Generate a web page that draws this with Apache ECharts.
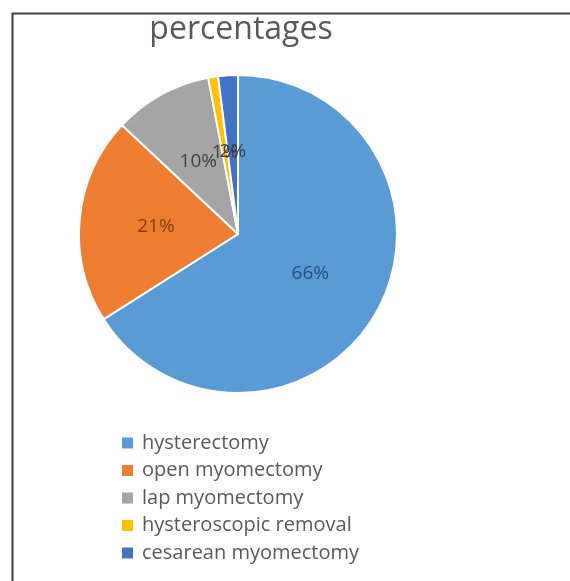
<!DOCTYPE html>
<html>
<head>
<meta charset="utf-8">
<title>percentages</title>
<script src="https://cdn.jsdelivr.net/npm/echarts@6/dist/echarts.min.js"></script>
<style>
  html, body { margin: 0; padding: 0; background: #ffffff; }
  #chart { width: 570px; height: 581px; }
</style>
</head>
<body>
<div id="chart"></div>
<script>
// Procedure categories and their share (%)
const categories = [
  'hysterectomy',
  'open myomectomy',
  'lap myomectomy',
  'hysteroscopic removal',
  'cesarean myomectomy'
];
const shares = [66, 21, 10, 1, 2];
const sliceColors = ['#5B9BD5', '#ED7D31', '#A5A5A5', '#FFC000', '#4472C4'];
const labelColors = ['#1F4E79', '#843C0C', '#404040', '#404040', '#404040'];

const chart = echarts.init(document.getElementById('chart'), null, { renderer: 'canvas' });

const pieData = categories.map((name, i) => ({
  name: name,
  value: shares[i],
  itemStyle: { color: sliceColors[i] },
  label: { color: labelColors[i] }
}));

chart.setOption({
  animation: false,
  backgroundColor: '#ffffff',
  title: {
    text: 'percentages',
    left: 236,
    top: 9,
    textAlign: 'center',
    textStyle: {
      fontFamily: 'Open Sans',
      fontSize: 32,
      fontWeight: 'normal',
      color: '#595959'
    }
  },
  legend: {
    orient: 'vertical',
    left: 115,
    top: 427,
    itemWidth: 13,
    itemHeight: 13,
    itemGap: 5.5,
    icon: 'rect',
    textStyle: {
      fontFamily: 'Open Sans',
      fontSize: 20,
      lineHeight: 22,
      color: '#595959',
      padding: [0, 0, 0, 3]
    },
    data: categories
  },
  graphic: [{
    type: 'rect',
    silent: true,
    shape: { x: 12.5, y: 13.5, width: 620, height: 620 },
    style: { fill: 'none', stroke: '#3f3f3f', lineWidth: 2 }
  }],
  series: [{
    type: 'pie',
    center: [238, 234],
    radius: [0, 159],
    startAngle: 90,
    clockwise: true,
    avoidLabelOverlap: false,
    labelLayout: { hideOverlap: false },
    itemStyle: { borderColor: '#ffffff', borderWidth: 2 },
    label: {
      show: true,
      position: 'inside',
      formatter: '{c}%',
      fontFamily: 'Open Sans',
      fontSize: 19
    },
    labelLine: { show: false },
    emphasis: { disabled: true },
    data: pieData
  }]
});
</script>
</body>
</html>
